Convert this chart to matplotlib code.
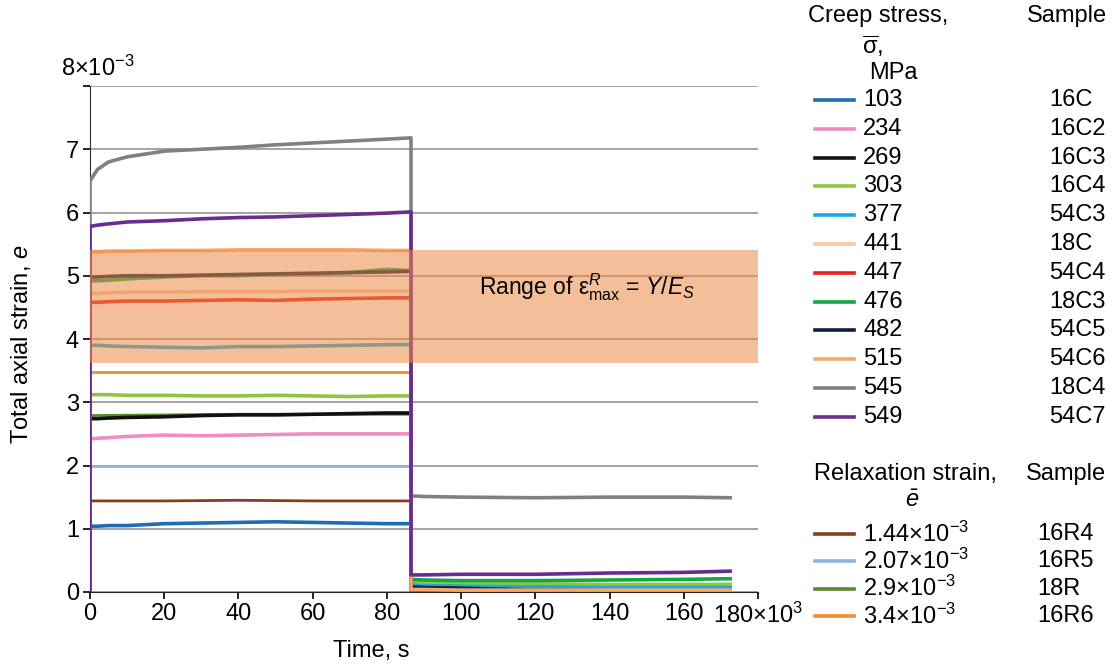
import matplotlib
matplotlib.use("Agg")
import matplotlib.pyplot as plt
from matplotlib.lines import Line2D

plt.rcParams['font.family'] = ['Liberation Sans', 'DejaVu Sans']
plt.rcParams['mathtext.fontset'] = 'custom'
plt.rcParams['mathtext.rm'] = 'Liberation Sans'
plt.rcParams['mathtext.it'] = 'Liberation Sans:italic'
plt.rcParams['mathtext.bf'] = 'Liberation Sans:bold'
FS = 17
plt.rcParams['font.size'] = FS

# time points (x 10^3 s): loading + creep hold, then recovery
t_creep = [0, 0, 2, 5, 10, 20, 30, 40, 50, 60, 70, 80, 86.5]
t_rec = [86.5, 90, 100, 120, 140, 160, 172.5]
t_relax = [0, 0, 20, 40, 60, 86.5]

# creep tests (strain x 10^-3)
creep_stress = ['103', '234', '269', '303', '377', '441', '447', '476', '482', '515', '545', '549']
creep_sample = ['16C', '16C2', '16C3', '16C4', '54C3', '18C', '54C4', '18C3', '54C5', '54C6', '18C4', '54C7']
creep_color = ['#1f6db5', '#f08cc0', '#111111', '#8dc63f', '#1ca8e0', '#f8c9a2',
               '#e5231c', '#16a64a', '#0c1f45', '#f6a86a', '#808080', '#6a2c91']
creep_vals = [
    [0, 1.04, 1.04, 1.05, 1.05, 1.08, 1.09, 1.10, 1.11, 1.10, 1.09, 1.08, 1.08],
    [0, 2.42, 2.43, 2.44, 2.46, 2.48, 2.47, 2.48, 2.49, 2.50, 2.50, 2.50, 2.50],
    [0, 2.74, 2.74, 2.75, 2.76, 2.77, 2.79, 2.80, 2.80, 2.81, 2.82, 2.83, 2.83],
    [0, 3.12, 3.12, 3.12, 3.11, 3.11, 3.10, 3.10, 3.11, 3.10, 3.09, 3.10, 3.10],
    [0, 3.90, 3.90, 3.89, 3.88, 3.87, 3.86, 3.88, 3.88, 3.89, 3.90, 3.91, 3.91],
    [0, 4.72, 4.72, 4.73, 4.74, 4.74, 4.75, 4.75, 4.75, 4.76, 4.76, 4.76, 4.76],
    [0, 4.58, 4.58, 4.59, 4.60, 4.60, 4.61, 4.62, 4.61, 4.63, 4.64, 4.65, 4.65],
    [0, 4.92, 4.92, 4.93, 4.95, 4.98, 5.00, 5.00, 5.02, 5.03, 5.05, 5.10, 5.08],
    [0, 4.98, 4.98, 4.99, 5.00, 5.00, 5.01, 5.02, 5.03, 5.04, 5.05, 5.06, 5.07],
    [0, 5.38, 5.38, 5.39, 5.39, 5.40, 5.40, 5.41, 5.41, 5.41, 5.41, 5.40, 5.40],
    [0, 6.50, 6.68, 6.80, 6.88, 6.97, 7.00, 7.03, 7.07, 7.10, 7.13, 7.16, 7.18],
    [0, 5.78, 5.80, 5.82, 5.85, 5.87, 5.90, 5.92, 5.93, 5.95, 5.97, 5.99, 6.01],
]
rec_vals = [
    [0.04, 0.04, 0.03, 0.03, 0.02, 0.02, 0.02],
    [0.10, 0.10, 0.09, 0.08, 0.08, 0.07, 0.07],
    [0.12, 0.12, 0.10, 0.08, 0.06, 0.05, 0.05],
    [0.16, 0.15, 0.14, 0.13, 0.12, 0.12, 0.12],
    [0.10, 0.10, 0.09, 0.08, 0.07, 0.07, 0.07],
    [0.06, 0.05, 0.04, 0.02, 0.02, 0.02, 0.02],
    [0.02, 0.01, 0.01, 0.00, 0.00, 0.00, 0.00],
    [0.20, 0.19, 0.18, 0.18, 0.19, 0.20, 0.21],
    [0.08, 0.07, 0.06, 0.03, 0.02, 0.02, 0.02],
    [0.04, 0.04, 0.03, 0.03, 0.03, 0.03, 0.03],
    [1.52, 1.51, 1.50, 1.49, 1.50, 1.50, 1.49],
    [0.27, 0.27, 0.28, 0.28, 0.30, 0.31, 0.33],
]

# relaxation tests
relax_strain = ['1.44×10$^{-3}$', '2.07×10$^{-3}$', '2.9×10$^{-3}$', '3.4×10$^{-3}$']
relax_sample = ['16R4', '16R5', '18R', '16R6']
relax_color = ['#8b3a1c', '#8fb4e3', '#5a8a2e', '#f38a2c']
relax_vals = [
    [0, 1.44, 1.44, 1.45, 1.44, 1.44],
    [0, 2.00, 2.00, 2.00, 2.00, 2.00],
    [0, 2.79, 2.80, 2.81, 2.81, 2.81],
    [0, 3.48, 3.48, 3.48, 3.48, 3.48],
]

band_lo, band_hi = 3.62, 5.40

fig = plt.figure(figsize=(11.14, 6.64), dpi=100)
W, H = 1114, 664
ax = fig.add_axes([90 / W, 1 - 592 / H, (758 - 90) / W, (592 - 86) / H])

for v, c in zip(relax_vals, relax_color):
    ax.plot(t_relax, v, color=c, lw=2, zorder=3)
for cv, rv, c in zip(creep_vals, rec_vals, creep_color):
    ax.plot(t_creep + t_rec, cv + rv, color=c, lw=2.6, zorder=3)

ax.axhspan(band_lo, band_hi, xmin=0, xmax=1, color='#ec8a45', alpha=0.55, lw=0, zorder=4)
ax.text(134, 4.82, r'Range of $\mathrm{\varepsilon}^{R}_{\mathrm{max}}$ = $Y/E_{S}$',
        ha='center', va='center', fontsize=16.5, zorder=5)

ax.set_xlim(0, 180)
ax.set_ylim(0, 8)
ax.set_yticks(range(0, 9))
ax.set_yticklabels([str(i) for i in range(8)] + [''])
ax.set_xticks(range(0, 181, 20))
ax.set_xticklabels([str(i) for i in range(0, 180, 20)] + ['180×10$^{3}$'])
ax.grid(axis='y', color='#8a8a8a', lw=1.1, zorder=0)
ax.set_axisbelow(True)
for s in ['top', 'right']:
    ax.spines[s].set_visible(False)
ax.spines['left'].set_color('#333333')
ax.spines['bottom'].set_color('#222222')
ax.tick_params(length=5, width=1.2, labelsize=FS, pad=3)
ax.set_xlabel('Time, s', fontsize=FS)
ax.set_ylabel('Total axial strain, $e$', fontsize=FS)
ax.xaxis.set_label_coords((371 - 90) / 668, (592 - 640) / 506)
ax.yaxis.set_label_coords((33 - 90) / 668, 0.49)
fig.text(61 / W, 1 - 68 / H, '8×10$^{-3}$', fontsize=FS, ha='left', va='center')

# legend, built by hand
def fy(p):
    return 1 - p / H

fig.text(878 / W, fy(16), 'Creep stress,', ha='center', va='center', fontsize=FS)
fig.text(873 / W, fy(46), r'$\overline{\mathrm{\sigma}}$,', ha='center', va='center', fontsize=FS)
fig.text(893 / W, fy(73), 'MPa', ha='center', va='center', fontsize=FS)
fig.text(1067 / W, fy(16), 'Sample', ha='center', va='center', fontsize=FS)
for i, (lab, smp, c) in enumerate(zip(creep_stress, creep_sample, creep_color)):
    y = 100 + 28.8 * i
    fig.add_artist(Line2D([815 / W, 854 / W], [fy(y), fy(y)], color=c, lw=2.6))
    fig.text(863 / W, fy(y), lab, ha='left', va='center', fontsize=FS)
    fig.text(1049 / W, fy(y), smp, ha='left', va='center', fontsize=FS)

fig.text(814 / W, fy(474), 'Relaxation strain,', ha='left', va='center', fontsize=FS)
fig.text(1066 / W, fy(474), 'Sample', ha='center', va='center', fontsize=FS)
fig.text(912 / W, fy(501), r'$\bar{e}$', ha='center', va='center', fontsize=FS)
for i, (lab, smp, c) in enumerate(zip(relax_strain, relax_sample, relax_color)):
    y = 534 + 27.3 * i
    fig.add_artist(Line2D([815 / W, 854 / W], [fy(y), fy(y)], color=c, lw=2.6))
    fig.text(863 / W, fy(y), lab, ha='left', va='center', fontsize=FS)
    fig.text(1037 / W, fy(y), smp, ha='left', va='center', fontsize=FS)

fig.savefig('out.png', dpi=100)
